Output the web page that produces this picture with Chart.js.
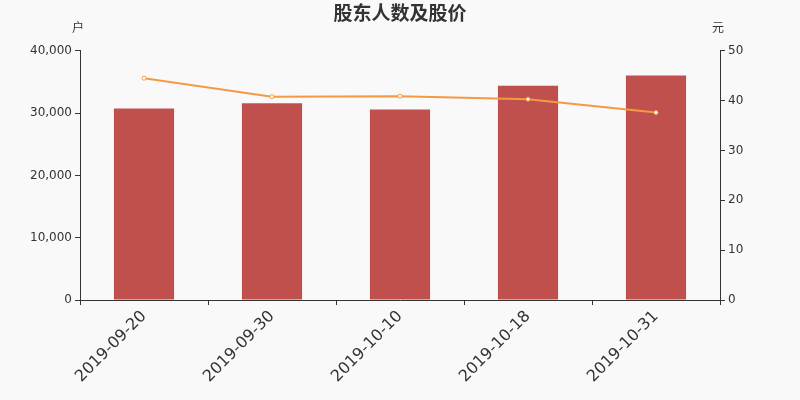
<!DOCTYPE html>
<html lang="zh">
<head>
  <meta charset="UTF-8">
  <title>股东人数及股价</title>
  <script src="https://cdn.jsdelivr.net/npm/chart.js"></script>
  <style>
    html, body { margin: 0; padding: 0; background: #f9f9f9; }
    #wrap { width: 800px; height: 400px; }
  </style>
</head>
<body>
<div id="wrap"><canvas id="myChart"></canvas></div>
<script>
  const dates = ['2019-09-20', '2019-09-30', '2019-10-10', '2019-10-18', '2019-10-31'];
  const holders = [30720, 31570, 30560, 34400, 36050];
  const prices = [44.5, 40.8, 40.9, 40.3, 37.6];

  const FONT = "'DejaVu Sans', 'Noto Sans CJK SC', sans-serif";

  // unit labels above each y axis
  const unitLabels = {
    id: 'unitLabels',
    afterDraw(chart) {
      const c = chart.ctx;
      c.save();
      c.fillStyle = '#333';
      c.font = '12px ' + FONT;
      c.textAlign = 'center';
      c.textBaseline = 'middle';
      c.fillText('户', chart.scales.y.right - 2, 29);
      c.fillText('元', chart.scales.y1.left - 2, 29);
      c.restore();
    }
  };

  const ctx = document.getElementById('myChart').getContext('2d');
  new Chart(ctx, {
    data: {
      labels: dates,
      datasets: [{
        type: 'line',
        label: '股价',
        data: prices,
        yAxisID: 'y1',
        borderColor: '#f39a43',
        backgroundColor: '#ffffff',
        borderWidth: 2,
        pointRadius: 2,
        pointBorderWidth: 1,
        pointBorderColor: '#f39a43',
        pointBackgroundColor: '#ffffff',
        tension: 0,
        order: 0
      }, {
        type: 'bar',
        label: '股东人数',
        data: holders,
        yAxisID: 'y',
        backgroundColor: '#c0504d',
        categoryPercentage: 1,
        barPercentage: 0.47,
        order: 1
      }]
    },
    options: {
      responsive: true,
      maintainAspectRatio: false,
      animation: false,
      layout: { padding: 0 },
      plugins: {
        legend: { display: false },
        tooltip: { enabled: false },
        title: {
          display: true,
          text: '股东人数及股价',
          color: '#333',
          font: { family: FONT, size: 19, weight: 'bold' },
          padding: { top: 4, bottom: 24 }
        }
      },
      scales: {
        x: {
          offset: true,
          afterFit(s) { s.height = 100; },
          border: { color: '#333', width: 1 },
          grid: { offset: true, drawOnChartArea: false, drawTicks: true, tickLength: 5, color: '#333' },
          ticks: {
            color: '#333',
            font: { family: FONT, size: 16 },
            minRotation: 45,
            maxRotation: 45,
            padding: 2
          }
        },
        y: {
          position: 'left',
          min: 0,
          max: 40000,
          afterFit(s) { s.width = 80; },
          border: { color: '#333', width: 1 },
          grid: { drawOnChartArea: false, drawTicks: true, tickLength: 5, color: '#333' },
          ticks: {
            stepSize: 10000,
            color: '#333',
            font: { family: FONT, size: 12 },
            padding: 3,
            callback: v => v.toLocaleString('en-US')
          }
        },
        y1: {
          position: 'right',
          min: 0,
          max: 50,
          afterFit(s) { s.width = 80; },
          border: { color: '#333', width: 1 },
          grid: { drawOnChartArea: false, drawTicks: true, tickLength: 5, color: '#333' },
          ticks: {
            stepSize: 10,
            color: '#333',
            font: { family: FONT, size: 12 },
            padding: 3
          }
        }
      }
    },
    plugins: [unitLabels]
  });
</script>
</body>
</html>
